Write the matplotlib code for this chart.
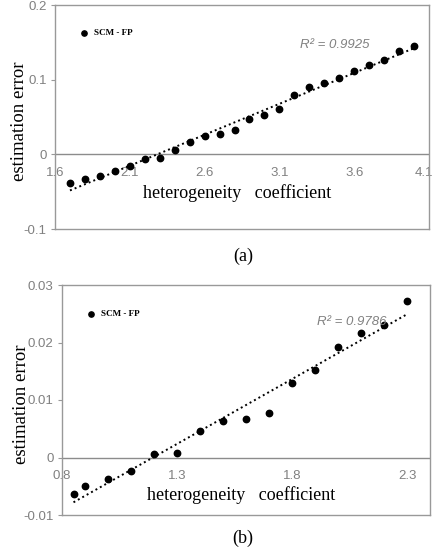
import numpy as np
import matplotlib.pyplot as plt
from matplotlib.transforms import ScaledTranslation

# panel (a)
hc_a = [1.7, 1.8, 1.9, 2.0, 2.1, 2.2, 2.3, 2.4, 2.5, 2.6, 2.7, 2.8,
        2.9, 3.0, 3.1, 3.2, 3.3, 3.4, 3.5, 3.6, 3.7, 3.8, 3.9, 4.0]
err_a = [-0.038, -0.0325, -0.0285, -0.0224, -0.0157, -0.0063, -0.0044, 0.0054,
         0.0161, 0.0245, 0.0268, 0.0321, 0.0473, 0.0522, 0.0612, 0.0794,
         0.0897, 0.0954, 0.1021, 0.112, 0.120, 0.1268, 0.1383, 0.1446]
xticks_a = [1.6, 2.1, 2.6, 3.1, 3.6, 4.1]
yticks_a = [-0.1, 0, 0.1, 0.2]
ylabels_a = ['-0.1', '0', '0.1', '0.2']
r2_a = 'R² = 0.9925'

# panel (b)
hc_b = [0.85, 0.9, 1.0, 1.1, 1.2, 1.3, 1.4, 1.5, 1.6, 1.7, 1.8, 1.9, 2.0, 2.1, 2.2, 2.3]
err_b = [-0.0063, -0.005, -0.0037, -0.0024, 0.00064, 0.00082, 0.0046, 0.0064,
         0.0067, 0.0078, 0.0130, 0.0153, 0.0192, 0.0216, 0.0231, 0.0273]
xticks_b = [0.8, 1.3, 1.8, 2.3]
yticks_b = [-0.01, 0, 0.01, 0.02, 0.03]
ylabels_b = ['-0.01', '0', '0.01', '0.02', '0.03']
r2_b = 'R² = 0.9786'

plt.rcParams['axes.unicode_minus'] = False
GRAY = '#808080'
SERIF = 'Liberation Serif'
SANS = 'Liberation Sans'


def panel(fig, rect, x, y, xlim, ylim, xticks, yticks, ylabels, r2, r2pos,
          title_y, ylab_x, caption, cap_y, last_shift=0):
    ax = fig.add_axes(rect)
    ax.set_xlim(*xlim)
    ax.set_ylim(*ylim)
    for s in ax.spines.values():
        s.set_color('#999999')
        s.set_linewidth(1.0)
    ax.axhline(0, color='#8c8c8c', lw=1.0, zorder=1)

    ax.plot(x, y, 'o', color='black', ms=4.6, zorder=3)
    k, b = np.polyfit(x, y, 1)
    xs = np.array([x[0], x[-1]])
    ax.plot(xs, k * xs + b, color='black', lw=1.4, ls=(0, (1, 1.6)), zorder=2)

    ax.set_yticks(yticks)
    ax.set_yticklabels(ylabels, fontfamily=SANS, fontsize=9.5, color=GRAY)
    ax.tick_params(axis='y', length=3, color='#999999', pad=3)
    ax.set_xticks([])

    loc = (0 - ylim[0]) / (ylim[1] - ylim[0])
    sec = ax.secondary_xaxis(loc)
    sec.spines['bottom'].set_visible(False)
    sec.set_xticks(xticks)
    labs = sec.set_xticklabels([str(t) for t in xticks], fontfamily=SANS,
                               fontsize=9.5, color=GRAY)
    sec.tick_params(length=0, pad=9)
    if last_shift:
        lab = labs[-1]
        lab.set_transform(lab.get_transform() +
                          ScaledTranslation(last_shift / 100, 0, fig.dpi_scale_trans))

    ax.set_ylabel('estimation error', fontfamily=SERIF, fontsize=13.5)
    ax.yaxis.set_label_coords(ylab_x, 0.48)
    ax.text(0.487, title_y, 'heterogeneity   coefficient', transform=ax.transAxes,
            ha='center', va='center', fontfamily=SERIF, fontsize=13)

    # legend
    ax.plot([0.078], [0.873], 'o', color='black', ms=3.8, transform=ax.transAxes,
            clip_on=False)
    ax.text(0.105, 0.873, 'SCM - FP', transform=ax.transAxes, ha='left', va='center',
            fontfamily=SERIF, fontweight='bold', fontsize=6.5)

    ax.text(r2pos[0], r2pos[1], r2, transform=ax.transAxes, ha='left', va='center',
            fontfamily=SANS, style='italic', fontsize=9.5, color=GRAY)

    fig.text(0.557, cap_y, caption, ha='center', va='center', fontfamily=SERIF,
             fontsize=13)
    return ax


fig = plt.figure(figsize=(4.36, 5.55), dpi=100)

panel(fig, [55 / 436, 1 - 229 / 555, 374 / 436, 224 / 555], hc_a, err_a,
      (1.6, 4.1), (-0.1, 0.2), xticks_a, yticks_a, ylabels_a, r2_a,
      ((300 - 55) / 374, (229 - 45) / 224), (229 - 193) / 224,
      (28 - 55) / 374, '(a)', 1 - 256 / 555, last_shift=-5)

panel(fig, [62 / 436, 1 - 515 / 555, 368 / 436, 230 / 555], hc_b, err_b,
      (0.8, 2.4), (-0.01, 0.03), xticks_b, yticks_b, ylabels_b, r2_b,
      ((317 - 62) / 368, (515 - 322) / 230), (515 - 495) / 230,
      (30 - 62) / 368, '(b)', 1 - 538 / 555)

fig.savefig('out.png', dpi=100)
